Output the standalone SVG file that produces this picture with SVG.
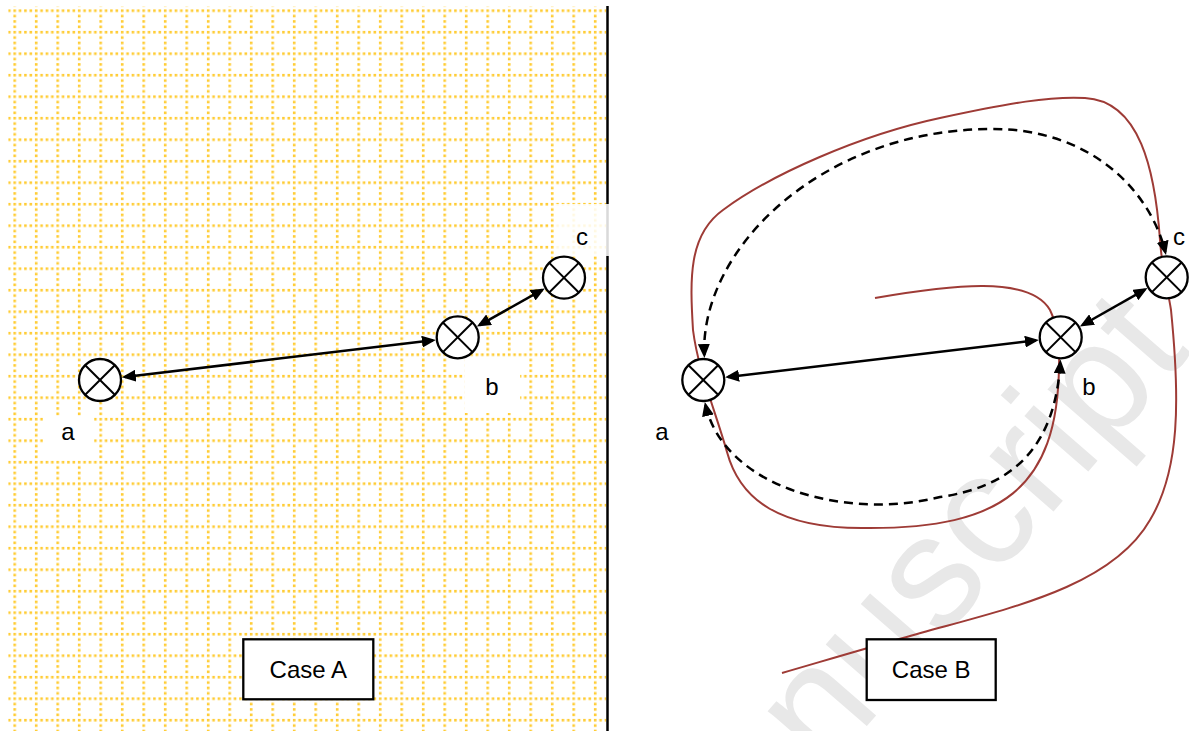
<svg xmlns="http://www.w3.org/2000/svg" width="1189" height="731" viewBox="0 0 1189 731">
<style>
  .lbl{font-family:"Liberation Sans",Arial,sans-serif;font-size:24px;fill:#000;text-anchor:middle}
  .node circle{fill:#fff;stroke:#000;stroke-width:2.3}
  .node line{stroke:#000;stroke-width:2}
  .solid{fill:none;stroke:#000;stroke-width:2.5;marker-start:url(#ah);marker-end:url(#ah)}
  .dash{fill:none;stroke:#000;stroke-width:2.5;stroke-dasharray:9 6;marker-start:url(#ah);marker-end:url(#ah)}
  .red{fill:none;stroke:#9E3B36;stroke-width:2}
  .box{fill:#fff;stroke:#000;stroke-width:2.3}
  .wbox{fill:#fff;stroke:none}
</style>
<defs>
  <pattern id="grid" x="13.4" y="9.4" width="21.5" height="21.5" patternUnits="userSpaceOnUse">
    <g fill="#FFCC33">
      <rect x="0" y="0" width="2.6" height="2.6"/>
      <rect x="5.375" y="0" width="2.6" height="2.6"/>
      <rect x="10.75" y="0" width="2.6" height="2.6"/>
      <rect x="16.125" y="0" width="2.6" height="2.6"/>
      <rect x="0" y="5.375" width="2.6" height="2.6"/>
      <rect x="0" y="10.75" width="2.6" height="2.6"/>
      <rect x="0" y="16.125" width="2.6" height="2.6"/>
    </g>
  </pattern>
  <marker id="ah" viewBox="0 0 14 12" refX="11" refY="6" markerWidth="14" markerHeight="12" markerUnits="userSpaceOnUse" orient="auto-start-reverse">
    <path d="M0,0 L14,6 L0,12 z" fill="#000"/>
  </marker>
</defs>
<rect width="1189" height="731" fill="#fff"/>

<!-- watermark -->
<text x="1192" y="352" transform="rotate(-49 1192 352)" font-family="Liberation Sans,Arial,sans-serif" font-size="160" fill="#E8E8E8" text-anchor="end">nuscript</text>

<!-- Case A panel -->
<g id="panelA">
  <rect x="8.2" y="6.5" width="598" height="725" fill="url(#grid)"/>
  <line x1="607.5" y1="6" x2="607.5" y2="731" stroke="#000" stroke-width="2.5"/>
  <rect class="wbox" x="555" y="204" width="56" height="52" opacity="0.85"/>
  <rect class="wbox" x="465" y="357" width="55" height="56"/>
  <rect class="wbox" x="43" y="417" width="51" height="42"/>
</g>

<g id="connectors">
  <!-- Case A -->
  <line class="solid" x1="124.8" y1="377" x2="432.9" y2="340.3"/>
  <line class="solid" x1="479.5" y1="325.1" x2="542.2" y2="289.9"/>
  <!-- Case B -->
  <path class="red" d="M875,298 C950,285 1030,275 1050,310 C1056,322 1060,345 1059,365 C1058,490 1000,528 870,528 C780,530 740,500 727,452 C715,410 698,370 693,330 C690,280 688,235 723,210 C770,175 860,135 940,118 C1010,103 1050,96 1085,98 C1140,101 1155,170 1160,240 C1162,270 1168,290 1171,310 C1180,400 1180,470 1150,520 C1110,590 1000,610 903,638 C860,650 820,662 782,673"/>
  <path class="dash" d="M704.3,355 C700,250 820,130 990,129 C1090,128 1150,190 1165.3,252"/>
  <path class="dash" d="M705.5,405 C725,490 850,520 940,497 C1010,487 1055,450 1060.3,362.5"/>
  <line class="solid" x1="728.1" y1="377" x2="1035.9" y2="340.3"/>
  <line class="solid" x1="1082.5" y1="325" x2="1144.9" y2="289.6"/>
</g>

<!-- Case A nodes -->
<g id="nodeA-a" class="node">
  <circle cx="100" cy="380" r="21"/>
  <line x1="85.2" y1="365.2" x2="114.8" y2="394.8"/><line x1="114.8" y1="365.2" x2="85.2" y2="394.8"/>
  <text class="lbl" x="68" y="440">a</text>
</g>
<g id="nodeA-b" class="node">
  <circle cx="457.7" cy="337.3" r="21"/>
  <line x1="442.9" y1="322.5" x2="472.5" y2="352.1"/><line x1="472.5" y1="322.5" x2="442.9" y2="352.1"/>
  <text class="lbl" x="492" y="395">b</text>
</g>
<g id="nodeA-c" class="node">
  <circle cx="564" cy="277.7" r="21"/>
  <line x1="549.2" y1="262.9" x2="578.8" y2="292.5"/><line x1="578.8" y1="262.9" x2="549.2" y2="292.5"/>
  <text class="lbl" x="582" y="245">c</text>
</g>
<g id="labelA">
  <rect class="box" x="243.3" y="639.3" width="130" height="60"/>
  <text class="lbl" x="308.3" y="678">Case A</text>
</g>

<!-- Case B nodes -->
<g id="nodeB-a" class="node">
  <circle cx="703.3" cy="380" r="21"/>
  <line x1="688.5" y1="365.2" x2="718.1" y2="394.8"/><line x1="718.1" y1="365.2" x2="688.5" y2="394.8"/>
  <text class="lbl" x="662" y="440">a</text>
</g>
<g id="nodeB-b" class="node">
  <circle cx="1060.7" cy="337.3" r="21"/>
  <line x1="1045.9" y1="322.5" x2="1075.5" y2="352.1"/><line x1="1075.5" y1="322.5" x2="1045.9" y2="352.1"/>
  <text class="lbl" x="1089" y="395">b</text>
</g>
<g id="nodeB-c" class="node">
  <circle cx="1166.7" cy="277.3" r="21"/>
  <line x1="1151.9" y1="262.5" x2="1181.5" y2="292.1"/><line x1="1181.5" y1="262.5" x2="1151.9" y2="292.1"/>
  <text class="lbl" x="1179" y="245">c</text>
</g>
<g id="labelB">
  <rect class="box" x="866.7" y="639.3" width="129" height="60.7"/>
  <text class="lbl" x="931.2" y="678">Case B</text>
</g>
</svg>
